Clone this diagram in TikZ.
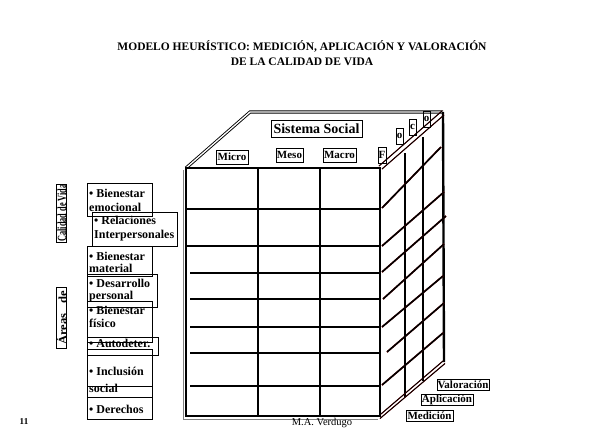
\documentclass[tikz,border=0pt]{standalone}
\usepackage{fontspec}
\setmainfont{Liberation Serif}
\begin{document}
\begin{tikzpicture}[x=1pt,y=-1pt,
  edge/.style={line width=2.4pt},
  dbl/.style={double=white, double distance=1.3pt, line width=0.9pt},
  gridln/.style={line width=1.5pt},
  under/.style={red, line width=1.4pt},
  over/.style={black, line width=1.7pt},
  underthin/.style={red, line width=0.8pt},
  overthin/.style={black, line width=1pt},
  lbl/.style={draw, line width=0.6pt, inner sep=0pt, font=\bfseries\fontsize{11}{12}\selectfont},
  atext/.style={anchor=base west, inner sep=0pt, font=\bfseries\fontsize{12}{14}\selectfont},
  abox/.style={line width=0.7pt},
  ttl/.style={anchor=base, inner sep=0pt, font=\bfseries\fontsize{11.5}{13}\selectfont}
]
\useasboundingbox (0,0) rectangle (592,445);

% title
\node[ttl] (title1) at (302,50) {MODELO HEURÍSTICO: MEDICIÓN, APLICACIÓN Y VALORACIÓN};
\node[ttl] (title2) at (302,65) {DE LA CALIDAD DE VIDA};

% cube corners
\coordinate (FTL) at (186,168);
\coordinate (FTR) at (380,168);
\coordinate (FBL) at (186,416);
\coordinate (FBR) at (380,416);
\coordinate (BTL) at (250,112);
\coordinate (BTR) at (443,112);
\coordinate (BBR) at (444,362);

% front face grid
\draw[gridln] (258,168) -- (258,416);
\draw[gridln] (320,168) -- (320,416);
\draw[gridln] (186,209) -- (380,209);
\draw[gridln] (186,246) -- (380,246);
\foreach \yy in {273,299,327,353,386} {\draw[gridln] (190,\yy) -- (380,\yy);}

% top face edges (double)
\draw[dbl] (FTL) -- (BTL) -- (BTR);

% front face outline with shadow
\draw[gray, line width=1pt] (183.5,170) -- (183.5,419) -- (378,419);
\draw[edge] (FTL) rectangle (FBR);

% right face
\draw[edge] (BTR) -- (BBR);
\draw[gridln] (405,153) -- (405,397);
\draw[gridln] (423,137) -- (423,381);

% right face slanted lines: under-layer then black over-layer
\foreach \s/\e in {{(382,208)}/{(441,147)}, {(382,246)}/{(444,192)}, {(382,272)}/{(446,216)}, {(383,299)}/{(444,244)}, {(382,327)}/{(443,276)}, {(387,352)}/{(444,303)}, {(382,385)}/{(443,333)}}
  {\draw[under] \s -- \e;}
\foreach \s/\e in {{(379,166)}/{(442,111)}, {(382,169)}/{(444,115)}, {(380,418.5)}/{(445,363.5)}, {(381,414)}/{(443,361)}}
  {\draw[underthin] \s -- \e;}
\foreach \s/\e in {{(382,208)}/{(441,147)}, {(382,246)}/{(444,192)}, {(382,272)}/{(446,216)}, {(383,299)}/{(444,244)}, {(382,327)}/{(443,276)}, {(387,352)}/{(444,303)}, {(382,385)}/{(443,333)}}
  {\draw[over] \s -- \e;}
\foreach \s/\e in {{(379,166)}/{(442,111)}, {(382,169)}/{(444,115)}, {(380,418.5)}/{(445,363.5)}, {(381,414)}/{(443,361)}}
  {\draw[overthin] \s -- \e;}

% top labels
\node[lbl, font=\bfseries\fontsize{14}{15}\selectfont, minimum width=91pt, minimum height=17pt] (ss) at (316.5,128.5) {Sistema Social};
\node[lbl, minimum width=32pt, minimum height=14pt] (micro) at (232,157) {Micro};
\node[lbl, minimum width=27pt, minimum height=14pt] (meso) at (289.5,155) {Meso};
\node[lbl, minimum width=33pt, minimum height=14pt] (macro) at (339.5,155) {Macro};
\node[lbl, minimum width=8pt, minimum height=16pt] (lf) at (382,155) {F};
\node[lbl, minimum width=7pt, minimum height=16pt] (lo1) at (399.5,136) {o};
\node[lbl, minimum width=7pt, minimum height=16pt] (lc) at (412.5,127) {c};
\node[lbl, minimum width=7pt, minimum height=16pt] (lo2) at (426.5,119) {o};

% bottom right labels
\node[lbl, minimum width=52pt, minimum height=11pt] (val) at (463,384.5) {Valoración};
\node[lbl, minimum width=52pt, minimum height=10.5pt] (apl) at (447,400) {Aplicación};
\node[lbl, minimum width=47pt, minimum height=11pt] (med) at (429.5,415.5) {Medición};

% left vertical labels
\draw[abox] (56,184) rectangle (66,242);
\node[rotate=90, inner sep=0pt, font=\bfseries\fontsize{12.5}{13}\selectfont] (cdv) at (61.8,213) {\scalebox{0.66}[1]{Calidad de Vida}};
\draw[abox] (56,287) rectangle (66,348);
\node[rotate=90, inner sep=0pt, font=\bfseries\fontsize{12}{13}\selectfont] (ade) at (61.8,318) {\scalebox{1.05}[1]{Áreas\hspace{0.8em}de}};

% area boxes
\draw[abox] (87,183) rectangle (152,216);
\draw[abox] (92,212) rectangle (177,246);
\draw[abox] (87,246) rectangle (152,276);
\draw[abox] (87,274) rectangle (157,307);
\draw[abox] (87,301) rectangle (152,342);
\draw[abox] (87,337) rectangle (158,355);
\draw[abox] (87,349) rectangle (152,397);
\draw[abox] (87,386) rectangle (152,419);

\node[atext] (a1a) at (89,197) {• Bienestar};
\node[atext] (a1b) at (89,211) {emocional};
\node[atext] (a2a) at (94,224) {• Relaciones};
\node[atext] (a2b) at (94,238) {Interpersonales};
\node[atext] (a3a) at (89,260) {• Bienestar};
\node[atext] (a3b) at (89,272) {material};
\node[atext] (a4a) at (89,287) {• Desarrollo};
\node[atext] (a4b) at (89,299) {personal};
\node[atext] (a5a) at (89,314) {• Bienestar};
\node[atext] (a5b) at (89,327) {físico};
\node[atext] (a6a) at (89,347) {• Autodeter.};
\node[atext] (a7a) at (89,375) {• Inclusión};
\node[atext] (a7b) at (89,392) {social};
\node[atext] (a8a) at (89,413) {• Derechos};

% footer
\node[inner sep=0pt, font=\bfseries\fontsize{9}{10}\selectfont] (pg) at (24,422) {11};
\node[inner sep=0pt, font=\fontsize{10.5}{12}\selectfont] (auth) at (322,423) {M.A. Verdugo};
\end{tikzpicture}
\end{document}
